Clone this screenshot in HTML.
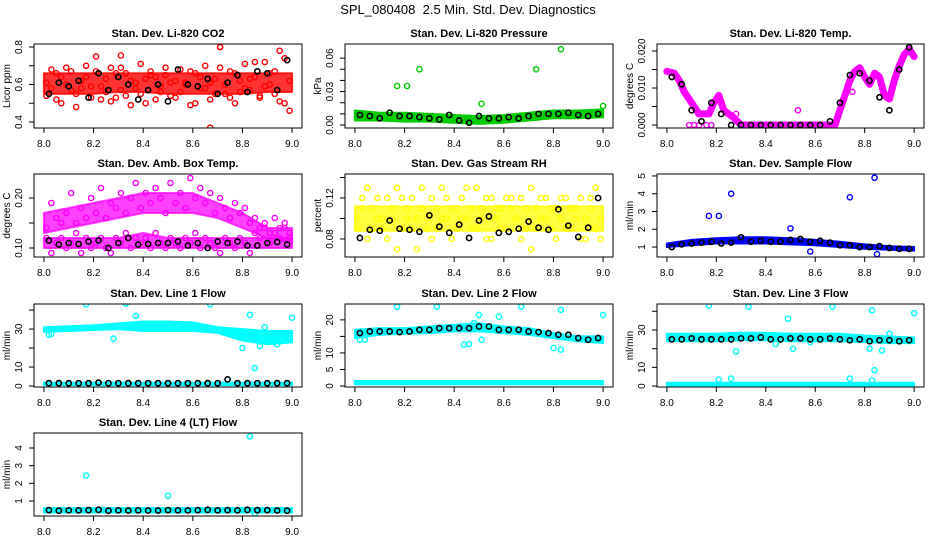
<!DOCTYPE html>
<html><head><meta charset="utf-8"><title>SPL_080408 Diagnostics</title>
<style>
html,body{margin:0;padding:0;background:#fff;}
svg{display:block;font-family:"Liberation Sans",Arial,sans-serif;}
</style></head>
<body>
<svg id="chart" width="936" height="540" viewBox="0 0 936 540" xmlns="http://www.w3.org/2000/svg">
<rect x="0" y="0" width="936" height="540" fill="#fff"/>
<text x="468" y="14" text-anchor="middle" font-size="13">SPL_080408&#160; 2.5 Min. Std. Dev. Diagnostics</text>
</svg>
<script>
// ---- shared category grids ----
const xTicks = [8.0, 8.2, 8.4, 8.6, 8.8, 9.0];
const xTickLabels = ["8.0", "8.2", "8.4", "8.6", "8.8", "9.0"];
const X11 = [8.0, 8.1, 8.2, 8.3, 8.4, 8.5, 8.6, 8.7, 8.8, 8.9, 9.0];
const X25 = [8.02,8.06,8.10,8.14,8.18,8.22,8.26,8.30,8.34,8.38,8.42,8.46,8.50,8.54,8.58,8.62,8.66,8.70,8.74,8.78,8.82,8.86,8.90,8.94,8.98];
const X50 = [8.00,8.02,8.04,8.06,8.08,8.10,8.12,8.14,8.16,8.18,8.20,8.22,8.24,8.26,8.28,8.30,8.32,8.34,8.36,8.38,8.40,8.42,8.44,8.46,8.48,8.50,8.52,8.54,8.56,8.58,8.60,8.62,8.64,8.66,8.68,8.70,8.72,8.74,8.76,8.78,8.80,8.82,8.84,8.86,8.88,8.90,8.92,8.94,8.96,8.98];

// ---- P1 CO2 ----
const co2BandLo = [0.55,0.55,0.55,0.56,0.56,0.55,0.55,0.55,0.55,0.56,0.56];
const co2BandHi = [0.66,0.66,0.66,0.66,0.66,0.66,0.66,0.66,0.66,0.66,0.66];
const co2A = [0.61,0.68,0.52,0.64,0.69,0.57,0.48,0.62,0.70,0.53,0.67,0.59,0.63,0.51,0.66,0.69,0.54,0.62,0.58,0.71,0.50,0.65,0.64,0.56,0.69,0.61,0.53,0.68,0.60,0.49,0.66,0.58,0.70,0.52,0.63,0.69,0.55,0.67,0.50,0.62,0.71,0.57,0.64,0.53,0.72,0.60,0.67,0.51,0.74,0.62];
const co2B = [0.54,0.58,0.66,0.50,0.60,0.67,0.55,0.58,0.64,0.59,0.75,0.52,0.56,0.69,0.53,0.57,0.66,0.49,0.61,0.55,0.63,0.67,0.52,0.59,0.65,0.54,0.62,0.56,0.61,0.67,0.50,0.64,0.58,0.61,0.55,0.80,0.60,0.53,0.66,0.56,0.58,0.63,0.72,0.54,0.59,0.66,0.55,0.78,0.50,0.46];
const co2OutX = [8.67, 8.71, 8.31];
const co2OutY = [0.37, 0.80, 0.755];
const co2Black = [0.55,0.61,0.59,0.62,0.53,0.66,0.57,0.64,0.60,0.52,0.57,0.60,0.51,0.68,0.60,0.59,0.63,0.55,0.61,0.65,0.56,0.67,0.66,0.57,0.73];

// ---- P2 Pressure ----
const prBandLo = [0.004,0.004,0.003,0.003,0.002,0.001,0.002,0.004,0.006,0.006,0.007];
const prBandHi = [0.013,0.011,0.011,0.010,0.009,0.008,0.009,0.011,0.013,0.013,0.014];
const prOutX = [8.17, 8.21, 8.26, 8.51, 8.73, 8.83, 9.0];
const prOutY = [0.035, 0.035, 0.050, 0.019, 0.050, 0.068, 0.017];
const prBlack = [0.009,0.008,0.006,0.011,0.008,0.008,0.007,0.006,0.005,0.009,0.004,0.002,0.008,0.006,0.006,0.007,0.006,0.008,0.010,0.010,0.010,0.011,0.009,0.008,0.010];

// ---- P3 Li-820 Temp ----
const tmpLineX = [8.00,8.03,8.05,8.07,8.09,8.11,8.13,8.15,8.17,8.19,8.21,8.23,8.25,8.27,8.30,8.68,8.70,8.72,8.74,8.76,8.78,8.80,8.82,8.84,8.86,8.88,8.90,8.92,8.94,8.96,8.98,9.00];
const tmpLineY = [0.0145,0.014,0.012,0.009,0.007,0.005,0.003,0.003,0.003,0.006,0.008,0.004,0.003,0.002,0,0,0.004,0.008,0.012,0.0145,0.0155,0.013,0.011,0.014,0.013,0.008,0.007,0.012,0.016,0.019,0.0205,0.0185];
const tmpOutX = [8.09, 8.11, 8.13, 8.16, 8.18, 8.28, 8.53, 8.75];
const tmpOutY = [0, 0, 0, 0, 0, 0.003, 0.004, 0.009];
const tmpBlack = [0.013,0.011,0.004,0.001,0.006,0.003,0,0,0,0,0,0,0,0,0,0,0.001,0.006,0.0135,0.014,0.012,0.0075,0.004,0.015,0.021];

// ---- P4 Amb Box Temp ----
const ambUpLo = [0.13,0.14,0.15,0.16,0.17,0.17,0.17,0.16,0.14,0.12,0.11];
const ambUpHi = [0.17,0.18,0.19,0.20,0.21,0.21,0.21,0.19,0.17,0.14,0.14];
const ambLoLo = [0.10,0.10,0.10,0.10,0.10,0.10,0.10,0.10,0.10,0.10,0.10];
const ambLoHi = [0.12,0.12,0.12,0.12,0.13,0.12,0.12,0.12,0.12,0.12,0.12];
const ambA = [0.14,0.19,0.16,0.15,0.17,0.21,0.15,0.18,0.16,0.20,0.17,0.22,0.16,0.19,0.18,0.21,0.17,0.20,0.23,0.18,0.21,0.19,0.22,0.20,0.17,0.23,0.19,0.21,0.18,0.24,0.20,0.22,0.19,0.21,0.17,0.20,0.18,0.16,0.19,0.17,0.18,0.15,0.16,0.14,0.15,0.13,0.16,0.14,0.15,0.13];
const ambB = [0.12,0.09,0.11,0.12,0.10,0.11,0.13,0.09,0.12,0.10,0.11,0.12,0.10,0.09,0.12,0.11,0.13,0.10,0.12,0.11,0.12,0.10,0.13,0.11,0.10,0.12,0.11,0.10,0.12,0.11,0.13,0.10,0.12,0.11,0.10,0.09,0.12,0.11,0.10,0.12,0.11,0.09,0.13,0.12,0.14,0.11,0.13,0.12,0.14,0.12];
const ambBlack = [0.115,0.107,0.110,0.108,0.113,0.115,0.100,0.110,0.120,0.107,0.108,0.110,0.110,0.113,0.105,0.110,0.100,0.113,0.110,0.113,0.105,0.105,0.110,0.112,0.107];

// ---- P5 Gas Stream RH ----
const rhBandLo = [0.088,0.088,0.088,0.088,0.088,0.088,0.088,0.088,0.088,0.088,0.088];
const rhBandHi = [0.112,0.112,0.112,0.112,0.112,0.112,0.112,0.112,0.112,0.112,0.112];
const rhA = [0.10,0.11,0.13,0.09,0.12,0.10,0.08,0.11,0.13,0.09,0.10,0.12,0.07,0.11,0.10,0.12,0.09,0.13,0.10,0.08,0.11,0.12,0.10,0.09,0.13,0.11,0.08,0.12,0.10,0.11,0.09,0.12,0.10,0.08,0.11,0.13,0.09,0.12,0.10,0.11,0.08,0.12,0.09,0.11,0.10,0.12,0.08,0.11,0.13,0.10];
const rhB = [0.09,0.12,0.08,0.11,0.10,0.09,0.12,0.10,0.07,0.12,0.11,0.09,0.10,0.13,0.09,0.08,0.11,0.10,0.12,0.11,0.09,0.10,0.13,0.11,0.09,0.10,0.12,0.08,0.11,0.09,0.12,0.11,0.10,0.12,0.09,0.07,0.11,0.10,0.12,0.09,0.11,0.10,0.12,0.09,0.11,0.08,0.10,0.12,0.09,0.08];
const rhBlack = [0.081,0.089,0.088,0.098,0.090,0.089,0.087,0.103,0.092,0.086,0.094,0.081,0.098,0.102,0.086,0.087,0.090,0.097,0.091,0.089,0.109,0.093,0.082,0.091,0.120];

// ---- P6 Sample Flow ----
const sfBandLo = [1.0,1.1,1.2,1.2,1.2,1.15,1.1,1.0,0.9,0.85,0.8];
const sfBandHi = [1.2,1.4,1.5,1.55,1.55,1.5,1.4,1.3,1.15,1.05,1.0];
const sfOutX = [8.17, 8.21, 8.26, 8.50, 8.74, 8.84, 8.58, 8.85];
const sfOutY = [2.75, 2.75, 4.0, 2.05, 3.8, 4.9, 0.75, 0.6];
const sfBlack = [1.0,1.15,1.2,1.25,1.3,1.2,1.25,1.55,1.3,1.35,1.3,1.3,1.4,1.45,1.3,1.35,1.25,1.1,1.1,1.0,1.0,1.05,0.95,0.9,0.9];

// ---- P7 Line 1 Flow ----
const l1UpLo = [28.5,29,29.5,30,29,29,29,28,24,22,23];
const l1UpHi = [31,31.5,32,33,34,34,33.5,31,30,29,29];
const l1LoLo = [0.5,0.5,0.5,0.5,0.5,0.5,0.5,0.5,0.5,0.5,0.5];
const l1LoHi = [1.8,1.8,1.8,1.8,1.8,1.8,1.8,1.8,1.8,1.8,1.8];
const l1OutX = [8.17, 8.33, 8.67, 8.28, 8.37, 8.80, 8.83, 8.85, 8.87, 8.89, 8.94, 9.0, 8.02, 8.03];
const l1OutY = [43, 43.5, 43, 25, 37, 20, 37.5, 9.5, 21, 31, 22, 36, 27, 27.5];
const l1Black = [1.5,1.5,1.5,1.5,1.5,1.8,1.5,1.5,1.5,1.5,1.5,1.5,1.5,1.5,1.5,1.5,1.5,1.5,3.5,1.5,1.5,1.5,1.5,1.5,1.5];

// ---- P8 Line 2 Flow ----
const l2UpLo = [14.5,15.5,15.8,16,16.5,16.5,16,15.5,14.5,13.5,13];
const l2UpHi = [17,17.5,17.5,18,18.5,19,18,17.5,16,15,15];
const l2LoLo = [0.5,0.5,0.5,0.5,0.5,0.5,0.5,0.5,0.5,0.5,0.5];
const l2LoHi = [1.5,1.5,1.5,1.5,1.5,1.5,1.5,1.5,1.5,1.5,1.5];
const l2OutX = [8.17, 8.33, 8.67, 8.83, 9.0, 8.44, 8.46, 8.48, 8.50, 8.51, 8.58, 8.80, 8.83, 8.02, 8.04];
const l2OutY = [24, 24, 24, 23, 21.5, 12.5, 12.7, 19, 21.5, 14, 21, 11.5, 11, 14, 14];
const l2Black = [16,16.5,16.5,16.5,16.3,16.5,17,17,17.5,17.5,17.5,17.5,18,18,17,17,17,16.5,16.3,16,15.5,15.5,14.5,14,14.5];

// ---- P9 Line 3 Flow ----
const l3UpLo = [24,24,24,24.5,24.5,24,24,24,23.5,23,23];
const l3UpHi = [28,28,28,28.5,28.5,28,28,28,27,26.5,26];
const l3LoLo = [0.3,0.3,0.3,0.3,0.3,0.3,0.3,0.3,0.3,0.3,0.3];
const l3LoHi = [1.8,1.8,1.8,1.8,1.8,1.8,1.8,1.8,1.8,1.8,1.8];
const l3OutX = [8.17, 8.33, 8.67, 8.83, 9.0, 8.49, 8.28, 8.51, 8.82, 8.87, 8.84, 8.21, 8.26, 8.74, 8.83, 8.90, 8.44, 8.58];
const l3OutY = [43, 42.5, 42.5, 40.5, 39, 36, 18.5, 20, 20, 19, 8.5, 3.5, 4, 4, 3, 28, 22.5, 23.5];
const l3Black = [25,25,25.5,25,25,25,25,25.5,25.5,26,25,25,25.5,25.5,25,25,25.5,25,24.5,25,24,24.5,24.5,24,24.5];

// ---- P10 Line 4 Flow ----
const l4BandLo = [0.35,0.35,0.35,0.35,0.35,0.35,0.35,0.35,0.35,0.35,0.35];
const l4BandHi = [0.6,0.6,0.6,0.6,0.6,0.6,0.6,0.6,0.6,0.6,0.6];
const l4OutX = [8.17, 8.50, 8.83, 8.85];
const l4OutY = [2.45, 1.3, 4.65, 0.3];
const l4Black = [0.48,0.45,0.47,0.47,0.48,0.50,0.45,0.47,0.46,0.47,0.46,0.46,0.48,0.47,0.47,0.48,0.50,0.47,0.48,0.47,0.50,0.48,0.48,0.46,0.45];

const panels = [
 {name:"co2", title:"Stan. Dev. Li-820 CO2", ylab:"Licor ppm", box:[34,44,302,128], y:[0.368,0.816], ticks:[0.4,0.5,0.6,0.7,0.8], labels:{0.4:"0.4",0.6:"0.6",0.8:"0.8"}, color:"#ff0000", bandOp:0.8,
  bands:[[co2BandLo,co2BandHi]], scat:[co2A,co2B], outX:co2OutX, outY:co2OutY, black:co2Black},
 {name:"pressure", title:"Stan. Dev. Li-820 Pressure", ylab:"kPa", box:[345,44,613,128], y:[-0.0027,0.0727], ticks:[0,0.01,0.02,0.03,0.04,0.05,0.06], labels:{0:"0.00",0.03:"0.03",0.06:"0.06"}, color:"#00cd00", bandOp:1,
  bands:[[prBandLo,prBandHi]], scat:[], outX:prOutX, outY:prOutY, black:prBlack},
 {name:"temp", title:"Stan. Dev. Li-820 Temp.", ylab:"degrees C", box:[657,44,924,128], y:[-0.0008,0.0219], ticks:[0,0.005,0.01,0.015,0.02], labels:{0:"0.000",0.01:"0.010",0.02:"0.020"}, color:"#ff00ff", bandOp:1,
  bands:[], line:[tmpLineX,tmpLineY], scat:[], outX:tmpOutX, outY:tmpOutY, black:tmpBlack},
 {name:"amb-box-temp", title:"Stan. Dev. Amb. Box Temp.", ylab:"degrees C", box:[34,174,302,257], y:[0.082,0.248], ticks:[0.10,0.15,0.20], labels:{0.1:"0.10",0.2:"0.20"}, color:"#ff00ff", bandOp:0.75,
  bands:[[ambUpLo,ambUpHi],[ambLoLo,ambLoHi]], scat:[ambA,ambB], outX:[], outY:[], black:ambBlack},
 {name:"gas-rh", title:"Stan. Dev. Gas Stream RH", ylab:"percent", box:[345,174,613,257], y:[0.0624,0.1434], ticks:[0.08,0.10,0.12,0.14], labels:{0.08:"0.08",0.12:"0.12"}, color:"#ffff00", bandOp:0.75,
  bands:[[rhBandLo,rhBandHi]], scat:[rhA,rhB], outX:[], outY:[], black:rhBlack},
 {name:"sample-flow", title:"Stan. Dev. Sample Flow", ylab:"ml/min", box:[657,174,924,257], y:[0.44,5.11], ticks:[1,2,3,4,5], labels:{1:"1",2:"2",3:"3",4:"4",5:"5"}, color:"#0000ff", bandOp:1,
  bands:[[sfBandLo,sfBandHi]], scat:[], outX:sfOutX, outY:sfOutY, black:sfBlack},
 {name:"line1-flow", title:"Stan. Dev. Line 1 Flow", ylab:"ml/min", box:[34,304,302,387], y:[-0.5,43.2], ticks:[0,10,20,30,40], labels:{0:"0",10:"10",30:"30"}, color:"#00ffff", bandOp:1,
  bands:[[l1UpLo,l1UpHi],[l1LoLo,l1LoHi]], scat:[], outX:l1OutX, outY:l1OutY, black:l1Black},
 {name:"line2-flow", title:"Stan. Dev. Line 2 Flow", ylab:"ml/min", box:[345,304,613,387], y:[-0.3,24.8], ticks:[0,5,10,15,20], labels:{0:"0",5:"5",10:"10",20:"20"}, color:"#00ffff", bandOp:1,
  bands:[[l2UpLo,l2UpHi],[l2LoLo,l2LoHi]], scat:[], outX:l2OutX, outY:l2OutY, black:l2Black},
 {name:"line3-flow", title:"Stan. Dev. Line 3 Flow", ylab:"ml/min", box:[657,304,924,387], y:[-0.5,43.9], ticks:[0,10,20,30,40], labels:{0:"0",10:"10",30:"30"}, color:"#00ffff", bandOp:1,
  bands:[[l3UpLo,l3UpHi],[l3LoLo,l3LoHi]], scat:[], outX:l3OutX, outY:l3OutY, black:l3Black},
 {name:"line4-flow", title:"Stan. Dev. Line 4 (LT) Flow", ylab:"ml/min", box:[34,433,302,516], y:[0.15,4.85], ticks:[1,2,3,4], labels:{1:"1",2:"2",3:"3",4:"4"}, color:"#00ffff", bandOp:1,
  bands:[[l4BandLo,l4BandHi]], scat:[], outX:l4OutX, outY:l4OutY, black:l4Black}
];

const svg = document.getElementById('chart');
const NS = 'http://www.w3.org/2000/svg';
function mk(tag, attrs, parent){
  const e = document.createElementNS(NS, tag);
  for (const k in attrs) e.setAttribute(k, attrs[k]);
  parent.appendChild(e);
  return e;
}

panels.forEach(p => {
  const [L,T,R,B] = p.box;
  const xs = v => L + (v - 7.96) / (9.04 - 7.96) * (R - L);
  const ys = v => B - (v - p.y[0]) / (p.y[1] - p.y[0]) * (B - T);
  const g = mk('g', {}, svg);
  
  
  const clipId = 'clip-' + p.name;
  const cp = mk('clipPath', {id: clipId}, g);
  mk('rect', {x:L, y:T, width:R-L, height:B-T}, cp);
  const plot = mk('g', {'clip-path': 'url(#' + clipId + ')'}, g);
  
  

  p.bands.forEach((bd, bi) => {
    const lo = bd[0], hi = bd[1];
    let pts = X11.map((x,i) => xs(x).toFixed(1) + ',' + ys(hi[i]).toFixed(1));
    pts = pts.concat(X11.slice().reverse().map((x,j) => { const i = X11.length-1-j; return xs(x).toFixed(1) + ',' + ys(lo[i]).toFixed(1); }));
    const poly = mk('polygon', {points: pts.join(' '), fill: p.color, 'fill-opacity': p.bandOp, stroke: p.color, 'stroke-opacity': p.bandOp, 'stroke-width': 2, 'stroke-linejoin':'round'}, plot);
    
    
  });
  if (p.line) {
    const pts = p.line[0].map((x,i) => xs(x).toFixed(1) + ',' + ys(p.line[1][i]).toFixed(1)).join(' ');
    const pl = mk('polyline', {points: pts, fill: 'none', stroke: p.color, 'stroke-width': 7, 'stroke-linejoin':'round', 'stroke-linecap':'round'}, plot);
    
    
  }
  p.scat.forEach(arr => {
    arr.forEach((v,i) => {
      const c = mk('circle', {cx: xs(X50[i] + 0.01), cy: ys(v), r: 2.6, fill: 'none', stroke: p.color, 'stroke-width': 1.4}, plot);
      
      
    });
  });
  p.outX.forEach((x,i) => {
    const c = mk('circle', {cx: xs(x), cy: ys(p.outY[i]), r: 2.6, fill: 'none', stroke: p.color, 'stroke-width': 1.4}, plot);
    
    
  });
  p.black.forEach((v,i) => {
    const c = mk('circle', {cx: xs(X25[i]), cy: ys(v), r: 2.6, fill: 'none', stroke: '#000', 'stroke-width': 1.6}, plot);
    
    
  });

  const box = mk('rect', {x:L, y:T, width:R-L, height:B-T, fill:'none', stroke:'#000', 'stroke-width':1}, g);
  
  

  const xa = mk('g', {}, g);
  
  
  mk('line', {x1: xs(xTicks[0]), x2: xs(xTicks[xTicks.length-1]), y1: B, y2: B, stroke:'#000'}, xa);
  xTicks.forEach((t,i) => {
    mk('line', {x1: xs(t), x2: xs(t), y1: B, y2: B+5, stroke:'#000'}, xa);
    const tx = mk('text', {x: xs(t), y: B+19, 'text-anchor':'middle', 'font-size':10}, xa);
    tx.textContent = xTickLabels[i];
    
    
  });

  const ya = mk('g', {}, g);
  
  
  mk('line', {x1: L, x2: L, y1: ys(p.ticks[0]), y2: ys(p.ticks[p.ticks.length-1]), stroke:'#000'}, ya);
  p.ticks.forEach(t => {
    const y = ys(t);
    mk('line', {x1: L-5, x2: L, y1: y, y2: y, stroke:'#000'}, ya);
    const key = Object.keys(p.labels).find(k => Math.abs(parseFloat(k) - t) < 1e-9);
    if (key !== undefined) {
      const tx = mk('text', {transform: 'translate(' + (L-12) + ',' + y.toFixed(1) + ') rotate(-90)', 'text-anchor':'middle', 'font-size':10}, ya);
      tx.textContent = p.labels[key];
      
      
    }
  });
  const yt = mk('text', {transform: 'translate(' + (L-24) + ',' + ((T+B)/2).toFixed(1) + ') rotate(-90)', 'text-anchor':'middle', 'font-size':10}, g);
  yt.textContent = p.ylab;
  
  

  const tt = mk('text', {x: (L+R)/2, y: T-7, 'text-anchor':'middle', 'font-size':11, 'font-weight':'bold'}, g);
  tt.textContent = p.title;
  
  
});
</script>
</body></html>
